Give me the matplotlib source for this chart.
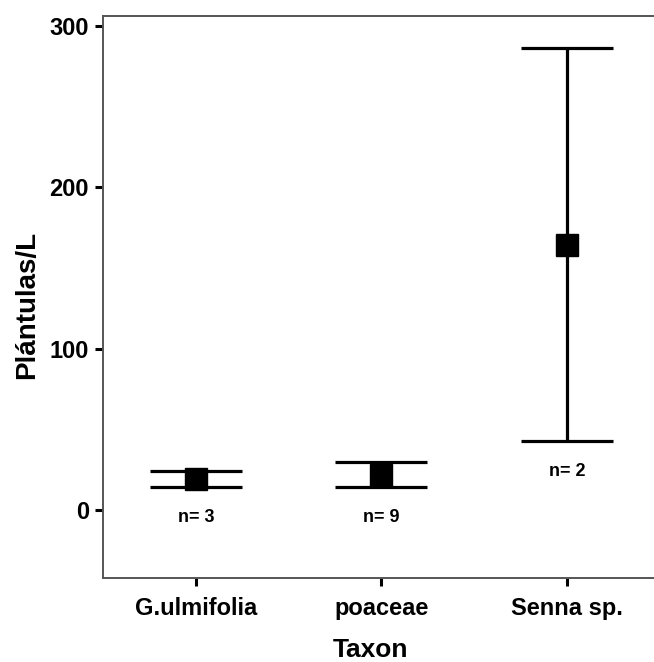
import matplotlib.pyplot as plt
import numpy as np

taxa = ['G.ulmifolia', 'poaceae', 'Senna sp.']
means = [19, 22, 164]
upper = [24, 30, 286]
lower = [14.5, 14.5, 43]
n_obs = [3, 9, 2]

plt.rcParams['font.family'] = ['Liberation Sans', 'DejaVu Sans']
plt.rcParams['font.weight'] = 'bold'

fig = plt.figure(figsize=(6.54, 6.62), dpi=100)
ax = fig.add_axes([0.1575, 0.127, 0.8425, 0.849])

x = np.arange(len(taxa))
means = np.array(means)
yerr = [means - np.array(lower), np.array(upper) - means]

ax.errorbar(x, means, yerr=yerr, fmt='s', color='black', ms=16,
            elinewidth=2.3, capsize=33, capthick=2.3)

# sample size under each bar
for xi, lo, n in zip(x, lower, n_obs):
    ax.annotate('n= %d' % n, (xi, lo), xytext=(0, -22), textcoords='offset points',
                ha='center', va='center', fontsize=13, fontweight='bold')

ax.set_xlim(-0.5, 2.47)
ax.set_ylim(-42, 306)
ax.set_yticks([0, 100, 200, 300])
ax.set_xticks(x)
ax.set_xticklabels(taxa)

ax.tick_params(axis='both', direction='out', length=6, width=2.2, labelsize=17, pad=4)
ax.tick_params(axis='x', pad=8)
for lab in ax.get_xticklabels() + ax.get_yticklabels():
    lab.set_fontweight('bold')

for side in ['left', 'bottom', 'top']:
    ax.spines[side].set_color('#555555')
    ax.spines[side].set_linewidth(1.4)
ax.spines['right'].set_visible(False)

ax.set_xlabel('Taxon', fontsize=19, fontweight='bold', va='center')
ax.set_ylabel('Plántulas/L', fontsize=20, fontweight='bold', va='center')
ax.xaxis.set_label_coords((370 - 103) / 551, -(650 - 578) / 562)
ax.yaxis.set_label_coords(-(103 - 27) / 551, (578 - 305) / 562)

fig.savefig('out.png', dpi=100)
